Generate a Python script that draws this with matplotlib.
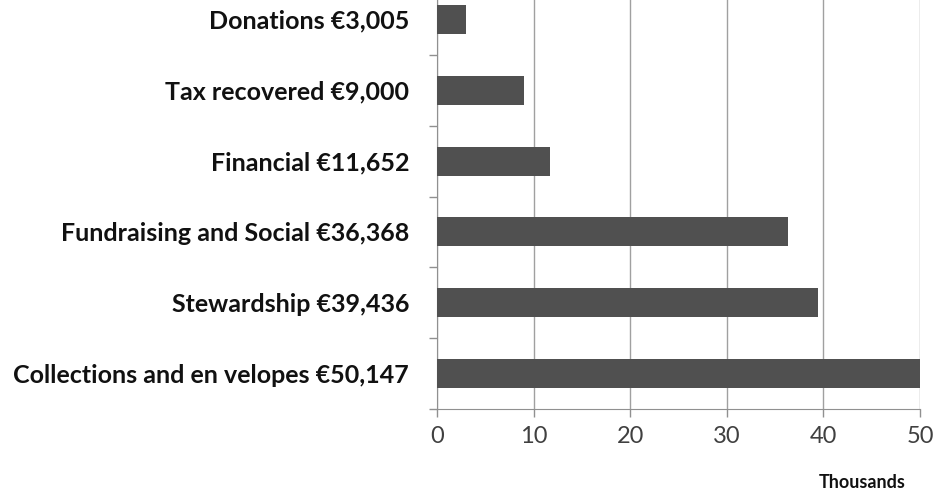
import matplotlib
matplotlib.use("Agg")
import matplotlib.pyplot as plt
import numpy as np

# dados (em milhares de euros), de baixo para cima
categorias = [
    "Collections and en velopes €50,147",
    "Stewardship €39,436",
    "Fundraising and Social €36,368",
    "Financial €11,652",
    "Tax recovered €9,000",
    "Donations €3,005",
]
valores = [50.147, 39.436, 36.368, 11.652, 9.000, 3.005]
xticks = [0, 10, 20, 30, 40, 50]

plt.rcParams["font.family"] = ["Lato", "DejaVu Sans"]

fig = plt.figure(figsize=(9.35, 4.94), dpi=100)
ax = fig.add_axes([437 / 935, 85 / 494, 483 / 935, 425 / 494])

pos = np.arange(len(categorias))
ax.barh(pos, valores, height=0.41, color="#505050", zorder=3)

ax.set_xlim(0, 50)
ax.set_ylim(-0.5, len(categorias) - 0.5)
ax.set_xticks(xticks)
ax.set_xticklabels([str(v) for v in xticks], fontsize=17, color="#404040")
ax.xaxis.grid(True, color="#a0a0a0", linewidth=1, zorder=0)

ax.set_yticks(pos)
ax.set_yticklabels(categorias, fontsize=18, fontweight="bold", color="#111111")
ax.set_yticks(np.arange(len(categorias) + 1) - 0.5, minor=True)
ax.tick_params(axis="y", which="major", length=0, pad=20)
ax.tick_params(axis="y", which="minor", length=6, color="#909090", width=1)
ax.tick_params(axis="x", which="major", length=6, color="#909090", width=1, pad=6)

for s in ["top", "right"]:
    ax.spines[s].set_visible(False)
for s in ["left", "bottom"]:
    ax.spines[s].set_color("#909090")

fig.text(862 / 935, 1 - 482 / 494, "Thousands", ha="center", va="center",
         fontsize=13, fontweight="bold", color="#111111")

fig.savefig("out.png", dpi=100)
